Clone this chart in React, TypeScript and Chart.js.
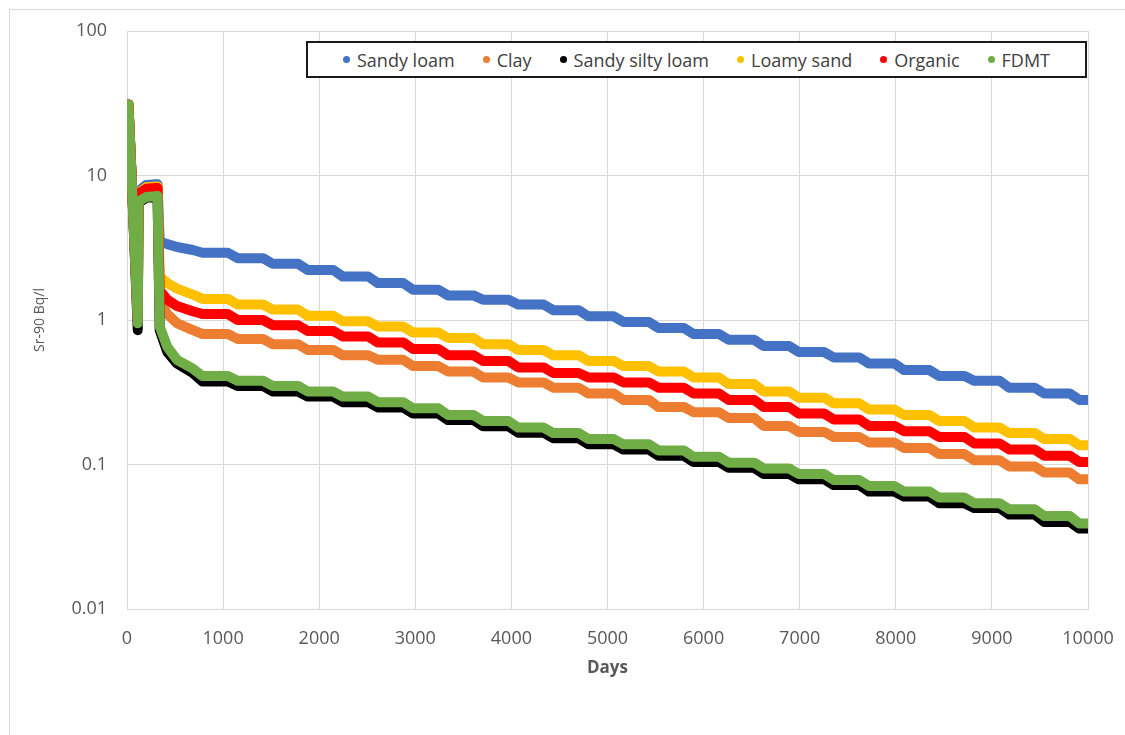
import React, { useEffect, useRef } from 'react';
import { Chart, registerables } from 'chart.js';

Chart.register(...registerables);

const SERIES_NAMES = ['Sandy loam', 'Clay', 'Sandy silty loam', 'Loamy sand', 'Organic', 'FDMT'];
const SERIES_COLORS = ['#4472C4', '#ED7D31', '#000000', '#FFC000', '#FF0000', '#70AD47'];

// first ~two years (spike, plateau, first drop)
const EARLY_DAYS = [0, 4, 15, 60, 112, 120, 200, 300, 318, 340, 420, 520, 685];
const SANDY_LOAM_EARLY = [10, 24, 31, 6.5, 1.1, 7.8, 8.6, 8.7, 8.7, 3.5, 3.35, 3.2, 3.05];
const CLAY_EARLY = [10, 24, 31, 6.5, 1.0, 7.5, 8.0, 8.1, 8.1, 1.35, 1.1, 0.95, 0.85];
const SANDY_SILTY_LOAM_EARLY = [10, 24, 31, 6.3, 0.85, 6.5, 7.0, 7.1, 7.1, 0.85, 0.6, 0.5, 0.43];
const LOAMY_SAND_EARLY = [10, 24, 31, 6.5, 1.05, 7.6, 8.3, 8.4, 8.4, 2.0, 1.8, 1.65, 1.5];
const ORGANIC_EARLY = [10, 24, 31, 6.5, 1.0, 7.5, 8.1, 8.2, 8.2, 1.6, 1.38, 1.25, 1.15];
const FDMT_EARLY = [10, 24, 31, 6.3, 0.95, 6.6, 7.1, 7.2, 7.2, 0.9, 0.65, 0.53, 0.46];

// yearly plateau levels (year 1 .. 26)
const SANDY_LOAM_ANNUAL = [2.92, 2.68, 2.45, 2.22, 2.0, 1.8, 1.62, 1.48, 1.38, 1.28, 1.17, 1.06, 0.97, 0.88, 0.8, 0.73, 0.66, 0.6, 0.55, 0.5, 0.45, 0.41, 0.38, 0.34, 0.31, 0.28];
const CLAY_ANNUAL = [0.8, 0.74, 0.68, 0.62, 0.57, 0.53, 0.48, 0.44, 0.4, 0.37, 0.34, 0.31, 0.28, 0.25, 0.23, 0.21, 0.185, 0.168, 0.155, 0.142, 0.13, 0.118, 0.107, 0.097, 0.088, 0.079];
const SANDY_SILTY_LOAM_ANNUAL = [0.375, 0.35, 0.32, 0.295, 0.27, 0.248, 0.225, 0.203, 0.184, 0.166, 0.152, 0.138, 0.127, 0.115, 0.104, 0.095, 0.086, 0.079, 0.072, 0.065, 0.06, 0.054, 0.05, 0.045, 0.04, 0.036];
const LOAMY_SAND_ANNUAL = [1.4, 1.28, 1.18, 1.07, 0.98, 0.9, 0.82, 0.75, 0.68, 0.62, 0.57, 0.52, 0.48, 0.44, 0.4, 0.36, 0.32, 0.29, 0.265, 0.24, 0.22, 0.2, 0.18, 0.165, 0.15, 0.136];
const ORGANIC_ANNUAL = [1.1, 1.0, 0.92, 0.84, 0.77, 0.7, 0.63, 0.57, 0.52, 0.47, 0.43, 0.4, 0.37, 0.34, 0.31, 0.28, 0.25, 0.225, 0.205, 0.185, 0.17, 0.155, 0.14, 0.127, 0.115, 0.104];
const FDMT_ANNUAL = [0.41, 0.38, 0.35, 0.32, 0.295, 0.27, 0.245, 0.22, 0.2, 0.18, 0.165, 0.15, 0.138, 0.125, 0.113, 0.103, 0.094, 0.086, 0.078, 0.071, 0.065, 0.059, 0.054, 0.049, 0.044, 0.039];

const EARLY_VALUES = [SANDY_LOAM_EARLY, CLAY_EARLY, SANDY_SILTY_LOAM_EARLY, LOAMY_SAND_EARLY, ORGANIC_EARLY, FDMT_EARLY];
const ANNUAL_VALUES = [SANDY_LOAM_ANNUAL, CLAY_ANNUAL, SANDY_SILTY_LOAM_ANNUAL, LOAMY_SAND_ANNUAL, ORGANIC_ANNUAL, FDMT_ANNUAL];

const FIRST_DROP_DAY = 320;
const YEAR_DAYS = 365;
const DROP_DAYS = 100;
const X_MIN = 0;
const X_MAX = 10000;
const X_STEP = 1000;
const Y_TICKS = [0.01, 0.1, 1, 10, 100];

function buildPoints(early: number[], annual: number[]) {
  const pts: { x: number; y: number }[] = EARLY_DAYS.map((d, i) => ({ x: d, y: early[i] }));
  annual.forEach((v, i) => {
    const k = i + 1;
    const start = FIRST_DROP_DAY + YEAR_DAYS * k + DROP_DAYS;
    const end = Math.min(FIRST_DROP_DAY + YEAR_DAYS * (k + 1), X_MAX);
    pts.push({ x: start, y: v });
    pts.push({ x: end, y: v });
  });
  return pts;
}

const FONT = "'Open Sans', 'Noto Sans', sans-serif";

export default function App() {
  const canvasRef = useRef<HTMLCanvasElement | null>(null);

  useEffect(() => {
    document.body.style.margin = '0';
    document.body.style.overflow = 'hidden';
    const canvas = canvasRef.current;
    if (!canvas) return;
    const n = SERIES_NAMES.length;
    const chart = new Chart(canvas, {
      type: 'line',
      data: {
        datasets: SERIES_NAMES.map((name, i) => ({
          label: name,
          data: buildPoints(EARLY_VALUES[i], ANNUAL_VALUES[i]),
          borderColor: SERIES_COLORS[i],
          backgroundColor: SERIES_COLORS[i],
          borderWidth: 10,
          borderCapStyle: 'round' as const,
          borderJoinStyle: 'round' as const,
          pointRadius: 0,
          tension: 0,
          order: n - 1 - i,
        })),
      },
      options: {
        animation: false,
        responsive: false,
        layout: { padding: { left: 28, top: 31, right: 37, bottom: 53 } },
        plugins: {
          legend: { display: false },
          tooltip: { enabled: false },
        },
        scales: {
          x: {
            type: 'linear',
            min: X_MIN,
            max: X_MAX,
            ticks: {
              stepSize: X_STEP,
              color: '#595959',
              font: { family: FONT, size: 18 },
              padding: 19,
              maxRotation: 0,
              callback: (v: any) => String(v),
            },
            grid: { color: '#d9d9d9', drawTicks: false, lineWidth: 1 },
            border: { color: '#d9d9d9' },
            title: {
              display: true,
              text: 'Days',
              color: '#595959',
              font: { family: FONT, size: 17, weight: 'bold' },
              padding: { top: 4, bottom: 4 },
            },
            afterFit: (scale: any) => {
              scale.height = 73;
              scale.paddingLeft = 0;
              scale.paddingRight = 0;
            },
          },
          y: {
            type: 'logarithmic',
            min: 0.01,
            max: 100,
            afterBuildTicks: (scale: any) => {
              scale.ticks = Y_TICKS.map((v) => ({ value: v }));
            },
            ticks: {
              color: '#595959',
              font: { family: FONT, size: 18 },
              padding: 20,
              autoSkip: false,
              callback: (v: any) => String(v),
            },
            grid: { color: '#d9d9d9', drawTicks: false, lineWidth: 1 },
            border: { color: '#d9d9d9' },
            title: {
              display: true,
              text: 'Sr-90 Bq/l',
              color: '#595959',
              font: { family: FONT, size: 14 },
              padding: { top: 4, bottom: 4 },
            },
            afterFit: (scale: any) => {
              scale.width = 99;
              scale.paddingTop = 0;
              scale.paddingBottom = 0;
            },
          },
        },
      },
    });
    return () => chart.destroy();
  }, []);

  return (
    <div style={{ position: 'relative', width: 1125, height: 735, overflow: 'hidden', background: '#fff' }}>
      <div
        style={{
          position: 'absolute',
          left: 9,
          top: 9,
          width: 1200,
          height: 800,
          border: '1px solid #d9d9d9',
          boxSizing: 'border-box',
        }}
      />
      <canvas ref={canvasRef} width={1125} height={735} style={{ position: 'absolute', left: 0, top: 0 }} />
      <div
        style={{
          position: 'absolute',
          left: 306,
          top: 41,
          width: 781,
          height: 37,
          boxSizing: 'border-box',
          border: '2px solid #1a1a1a',
          background: '#fff',
          display: 'flex',
          alignItems: 'center',
          justifyContent: 'center',
          gap: 28,
          fontFamily: FONT,
          fontSize: 18,
          color: '#404040',
          whiteSpace: 'nowrap',
        }}
      >
        {SERIES_NAMES.map((name, i) => (
          <div key={name} style={{ display: 'flex', alignItems: 'center' }}>
            <span
              style={{
                display: 'inline-block',
                width: 7,
                height: 7,
                borderRadius: '50%',
                background: SERIES_COLORS[i],
                marginRight: 7,
              }}
            />
            <span>{name}</span>
          </div>
        ))}
      </div>
    </div>
  );
}
